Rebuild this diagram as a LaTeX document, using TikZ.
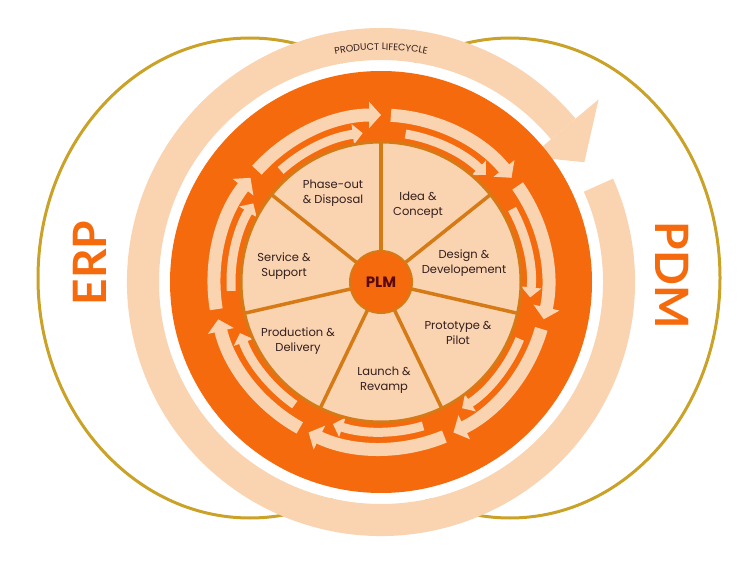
\documentclass[tikz,border=0pt]{standalone}
\usepackage{fontspec}
\setmainfont{Poppins}
\newfontfamily\bigfont{Lato}
\usepackage{tikz}
\usetikzlibrary{arrows.meta,decorations.text}

\definecolor{plmorange}{RGB}{244,106,12}
\definecolor{plmpeach}{RGB}{250,211,176}
\definecolor{plmspoke}{RGB}{214,122,22}
\definecolor{plmgold}{RGB}{202,162,40}
\definecolor{plmtext}{RGB}{50,30,30}

\tikzset{
  outerarrow/.style={draw=plmpeach, line width=13pt, -{Triangle[width=26pt,length=12pt]}},
  innerarrow/.style={draw=plmpeach, line width=9pt, -{Triangle[width=20pt,length=10pt]}},
  sector/.style={font=\fontsize{11.5}{15}\selectfont, text=plmtext, align=center},
  bigword/.style={font=\bigfont\fontsize{46}{46}\selectfont\bfseries, text=plmorange}
}

\begin{document}
\begin{tikzpicture}[x=1pt,y=1pt]
\useasboundingbox (0,0) rectangle (750,574);

% gold ellipses
\draw[plmgold, line width=3pt] (250,296) ellipse[x radius=212, y radius=240];
\draw[plmgold, line width=3pt] (510,296) ellipse[x radius=210, y radius=240];

\begin{scope}[shift={(381,292)}]
% product lifecycle band
\fill[white] (0,0) circle[radius=222];
\fill[plmpeach] (24:254) arc[start angle=24, end angle=-320, radius=254]
  -- (-320:222) arc[start angle=-320, end angle=24, radius=222] -- cycle;
\fill[plmpeach] (40:195) -- (40:284) -- (30.5:236) -- cycle;
\path[decorate, decoration={text along path, text align=center,
  text={|\fontsize{9.5}{9.5}\selectfont\color{plmtext}|PRODUCT LIFECYCLE}}]
  (120:232) arc[start angle=120, end angle=60, radius=232];

% orange disc
\fill[plmorange] (0,0) circle[radius=211];

% arrow rings
\foreach \a in {90,38.6,-12.9,-64.3,-115.7,-167.1,141.4} {
  \draw[outerarrow] (\a+48:167) arc[start angle=\a+48, end angle=\a, radius=167];
  \draw[innerarrow] (\a+42:150) arc[start angle=\a+42, end angle=\a+7, radius=150];
}

% pie
\fill[plmpeach, draw=plmspoke, line width=3pt] (0,0) circle[radius=140];
\foreach \a in {90,38.6,-12.9,-64.3,-115.7,-167.1,141.4}
  \draw[plmspoke, line width=3.5pt] (0,0) -- (\a:140);
\node[circle, fill=plmorange, draw=plmspoke, line width=2pt, minimum size=62pt,
  font=\fontsize{15}{15}\selectfont\bfseries, text={rgb,255:red,90;green,10;blue,10}] (plm) at (0,0) {PLM};
\end{scope}

% sector labels
\node[sector] (phase) at (333,381) {Phase-out\\\& Disposal};
\node[sector] (idea) at (418,369) {Idea \&\\Concept};
\node[sector] (design) at (464,311) {Design \&\\Developement};
\node[sector] (proto) at (458,241) {Prototype \&\\Pilot};
\node[sector] (launch) at (384,194) {Launch \&\\Revamp};
\node[sector] (prod) at (298,233) {Production \&\\Delivery};
\node[sector] (service) at (284,308) {Service \&\\Support};

% side words
\node[bigword, rotate=90] (erp) at (90,311) {ERP};
\node[bigword, rotate=-90] (pdm) at (672,299) {PDM};
\end{tikzpicture}
\end{document}
